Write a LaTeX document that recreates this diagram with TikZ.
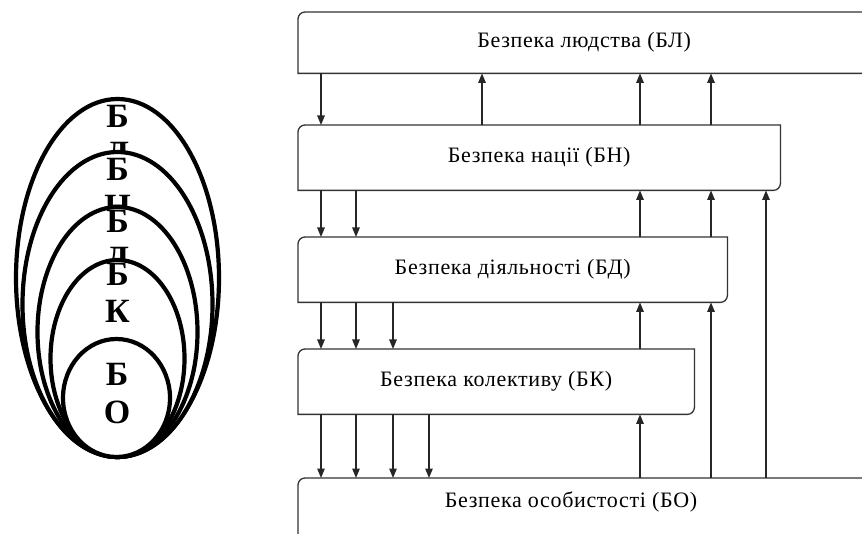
\documentclass[tikz,border=0pt]{standalone}
\usepackage{fontspec}
\setmainfont{Liberation Serif}
\usetikzlibrary{arrows.meta}
\newcommand{\boxoutline}[1]{\draw[boxline] (#1.south west) -- ([yshift=-7pt]#1.north west) arc[start angle=180,end angle=90,radius=7pt] -- (#1.north east) -- ([yshift=7pt]#1.south east) arc[start angle=0,end angle=-90,radius=7pt] -- cycle;}
\newcommand{\boxfont}{\fontsize{22}{25}\selectfont\addfontfeatures{LetterSpace=3}}
\tikzset{
 boxnode/.style={draw=none, inner sep=0pt, font=\boxfont, anchor=north west, text=black},
 boxtext/.style={inner sep=0pt, font=\boxfont, text=black},
 boxline/.style={draw=black!80, line width=1.3pt},
 arr/.style={draw=black!85, line width=1.3pt, -{Triangle[width=7.5pt,length=9.5pt]}},
 ell/.style={draw=black, line width=4.2pt, fill=white},
 letter/.style={font=\bfseries\fontsize{34}{37}\selectfont, inner sep=0pt, anchor=base},
}
\begin{document}
\begin{tikzpicture}[x=1pt,y=1pt]
\useasboundingbox (0,0) rectangle (862,533);
\clip (0,0) rectangle (862,533);
% nested ellipses
\draw[ell] (117.5,255) ellipse [x radius=101.5pt, y radius=179pt];
\node[letter] (l1a) at (117.5,405) {Б};
\node[letter] (l1b) at (117.5,368) {Д};
\draw[ell] (117.5,228.5) ellipse [x radius=95pt, y radius=152.5pt];
\node[letter] (l2a) at (117.5,352) {Б};
\node[letter] (l2b) at (117.5,315) {Н};
\draw[ell] (117.5,201) ellipse [x radius=80pt, y radius=125pt];
\node[letter] (l3a) at (117.5,300) {Б};
\node[letter] (l3b) at (117.5,263) {Д};
\draw[ell] (117.5,174.5) ellipse [x radius=67pt, y radius=98.5pt];
\node[letter] (l4a) at (117.5,247) {Б};
\node[letter] (l4b) at (117.5,210) {К};
\draw[ell] (116.5,135) ellipse [x radius=53.5pt, y radius=59pt];
\node[letter] (l5a) at (117,147) {Б};
\node[letter] (l5b) at (117,110) {О};
% boxes
\node[boxnode, minimum width=572pt, minimum height=61pt] (BL) at (298,521) {Безпека людства (БЛ)};
\node[boxnode, minimum width=482pt, minimum height=65pt] (BN) at (298,408) {Безпека нації (БН)};
\node[boxnode, minimum width=429pt, minimum height=65pt] (BD) at (298,296) {Безпека діяльності (БД)};
\node[boxnode, minimum width=396pt, minimum height=65pt] (BK) at (298,184) {Безпека колективу (БК)};
\node[boxnode, minimum width=600pt, minimum height=100pt] (BO) at (298,55) {};
\node[boxtext] (BOt) at (571,31) {Безпека особистості (БО)};
\boxoutline{BL}
\boxoutline{BN}
\boxoutline{BD}
\boxoutline{BK}
\boxoutline{BO}
% downward arrows
\draw[arr] ([xshift=23pt]BL.south west) -- ([xshift=23pt]BN.north west);
\foreach \d in {23,58} \draw[arr] ([xshift=\d pt]BN.south west) -- ([xshift=\d pt]BD.north west);
\foreach \d in {23,58,95} \draw[arr] ([xshift=\d pt]BD.south west) -- ([xshift=\d pt]BK.north west);
\foreach \d in {23,58,95,131} \draw[arr] ([xshift=\d pt]BK.south west) -- ([xshift=\d pt]BO.north west);
% upward arrows
\foreach \d in {184,342,413} \draw[arr] ([xshift=\d pt]BN.north west) -- ([xshift=\d pt]BL.south west);
\foreach \d in {342,413} \draw[arr] ([xshift=\d pt]BD.north west) -- ([xshift=\d pt]BN.south west);
\draw[arr] ([xshift=468pt]BO.north west) -- ([xshift=468pt]BN.south west);
\draw[arr] ([xshift=342pt]BK.north west) -- ([xshift=342pt]BD.south west);
\draw[arr] ([xshift=413pt]BO.north west) -- ([xshift=413pt]BD.south west);
\draw[arr] ([xshift=342pt]BO.north west) -- ([xshift=342pt]BK.south west);
\end{tikzpicture}
\end{document}
